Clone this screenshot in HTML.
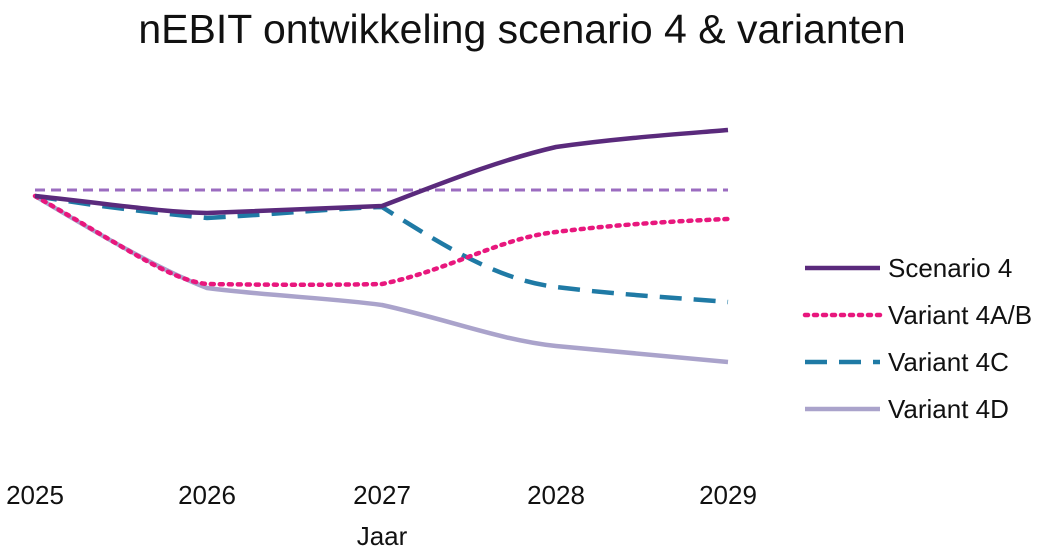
<!DOCTYPE html>
<html><head><meta charset="utf-8"><style>
body{margin:0;background:#fff;width:1047px;height:555px;overflow:hidden}
text{font-family:"Liberation Sans",Arial,sans-serif;fill:#111}
</style></head><body>
<svg width="1047" height="555" viewBox="0 0 1047 555">
<text x="522" y="43" font-size="41" text-anchor="middle">nEBIT ontwikkeling scenario 4 &amp; varianten</text>
<line x1="35" y1="190" x2="728" y2="190" stroke="#9b6cc0" stroke-width="3" stroke-dasharray="10,6"/>
<path d="M35,196 C100,235 160,270 207,288 C270,296 330,298 382,305 C450,320 500,340 556,346 C620,352 680,358 728,362" fill="none" stroke="#aaa3cb" stroke-width="4.5"/>
<path d="M35,196 C120,210 170,214 207,218 C280,214 340,208 382,207 C450,250 500,280 556,287 C620,295 680,298 728,302" fill="none" stroke="#1f7aa5" stroke-width="4.5" stroke-dasharray="22,12"/>
<path d="M35,196 C130,250 170,280 207,284 C270,285 340,285 382,284 C450,270 500,238 556,232 C620,224 680,221 728,219" fill="none" stroke="#e8177d" stroke-width="4.5" stroke-dasharray="3,6" stroke-linecap="round"/>
<path d="M35,196 C120,205 160,212 207,213 C280,210 340,208 382,206 C450,180 500,160 556,147 C620,138 680,134 728,130" fill="none" stroke="#5a2a7c" stroke-width="4.5"/>
<g font-size="26" text-anchor="middle">
<text x="35" y="504">2025</text><text x="207" y="504">2026</text><text x="382" y="504">2027</text><text x="556" y="504">2028</text><text x="728" y="504">2029</text>
<text x="382" y="545">Jaar</text>
</g>
<line x1="805" y1="268" x2="880" y2="268" stroke="#5a2a7c" stroke-width="4.5"/>
<line x1="805" y1="315" x2="880" y2="315" stroke="#e8177d" stroke-width="4.5" stroke-dasharray="3,6" stroke-linecap="round"/>
<line x1="805" y1="362" x2="880" y2="362" stroke="#1f7aa5" stroke-width="4.5" stroke-dasharray="22,12"/>
<line x1="805" y1="409" x2="880" y2="409" stroke="#aaa3cb" stroke-width="4.5"/>
<g font-size="26">
<text x="888" y="277">Scenario 4</text>
<text x="888" y="324">Variant 4A/B</text>
<text x="888" y="371">Variant 4C</text>
<text x="888" y="418">Variant 4D</text>
</g>
</svg>
</body></html>
